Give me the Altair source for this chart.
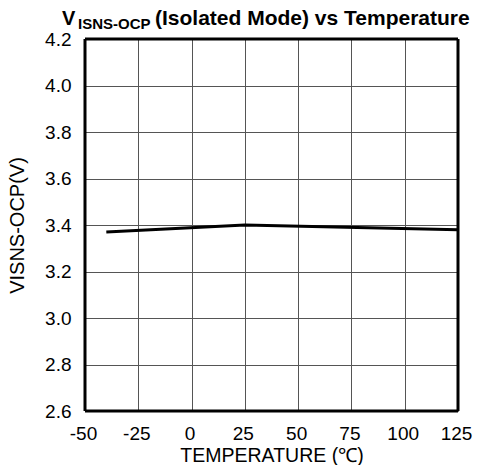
import altair as alt
import pandas as pd

# data
temps = [-40, 25, 125]
vocp = [3.37, 3.40, 3.38]
x_ticks = [-50, -25, 0, 25, 50, 75, 100, 125]
y_ticks = [2.6, 2.8, 3.0, 3.2, 3.4, 3.6, 3.8, 4.0, 4.2]
title_main = "V"
title_sub = "ISNS-OCP"
title_rest = "(Isolated Mode) vs Temperature"
x_title = "TEMPERATURE (℃)"
y_title = "VISNS-OCP(V)"

FONT = "Liberation Sans"
df = pd.DataFrame({"t": temps, "v": vocp})
x_edges = pd.DataFrame({"t": [x_ticks[0], x_ticks[-1]]})
y_edges = pd.DataFrame({"v": [y_ticks[0], y_ticks[-1]]})

x_scale = alt.Scale(domain=[-50, 125], nice=False, zero=False)
y_scale = alt.Scale(domain=[2.6, 4.2], nice=False, zero=False)

x_enc = alt.X(
    "t:Q",
    scale=x_scale,
    axis=alt.Axis(
        values=x_ticks, title=x_title, grid=True, ticks=False, domain=False,
        labelExpr="'' + datum.value", labelOffset=-2,
        labelFontSize=19, titleFontSize=19.5, labelPadding=13, titlePadding=3,
        labelFont=FONT, titleFont=FONT, titleFontWeight="normal",
        labelColor="black", titleColor="black", gridColor="#555555",
        gridWidth=1, gridOpacity=1, labelFlush=False,
    ),
)
y_enc = alt.Y(
    "v:Q",
    scale=y_scale,
    axis=alt.Axis(
        values=y_ticks, title=y_title, grid=True, ticks=False, domain=False,
        format=".1f", labelFontSize=19, titleFontSize=20, labelPadding=14,
        titlePadding=17, labelFont=FONT, titleFont=FONT,
        titleFontWeight="normal", labelColor="black", titleColor="black",
        gridColor="#555555", gridWidth=1, gridOpacity=1, labelFlush=False,
    ),
)

line = alt.Chart(df).mark_line(color="black", strokeWidth=3, clip=True).encode(
    x=x_enc, y=y_enc
)

frame_x = alt.Chart(x_edges).mark_rule(color="black", strokeWidth=3).encode(
    x=alt.X("t:Q", scale=x_scale)
)
frame_y = alt.Chart(y_edges).mark_rule(color="black", strokeWidth=3).encode(
    y=alt.Y("v:Q", scale=y_scale)
)

def title_text(s, dx, dy, size):
    return alt.Chart(pd.DataFrame({"s": [s]})).mark_text(
        font=FONT, fontWeight="bold", fontSize=size, align="left",
        baseline="alphabetic", color="black",
    ).encode(text="s:N", x=alt.value(dx), y=alt.value(dy))

chart = alt.layer(
    line,
    frame_x,
    frame_y,
    title_text(title_main, -23, -14, 20),
    title_text(title_sub, -7, -10, 15),
    title_text(title_rest, 70, -14, 21),
).properties(
    width=373, height=372,
    autosize=alt.AutoSizeParams(type="none"),
    padding={"left": 77, "top": 31, "right": 16, "bottom": 54},
).configure(
    background="white"
).configure_view(
    stroke=None
)

chart.save("out.html", embed_options={"renderer": "svg", "actions": False})
